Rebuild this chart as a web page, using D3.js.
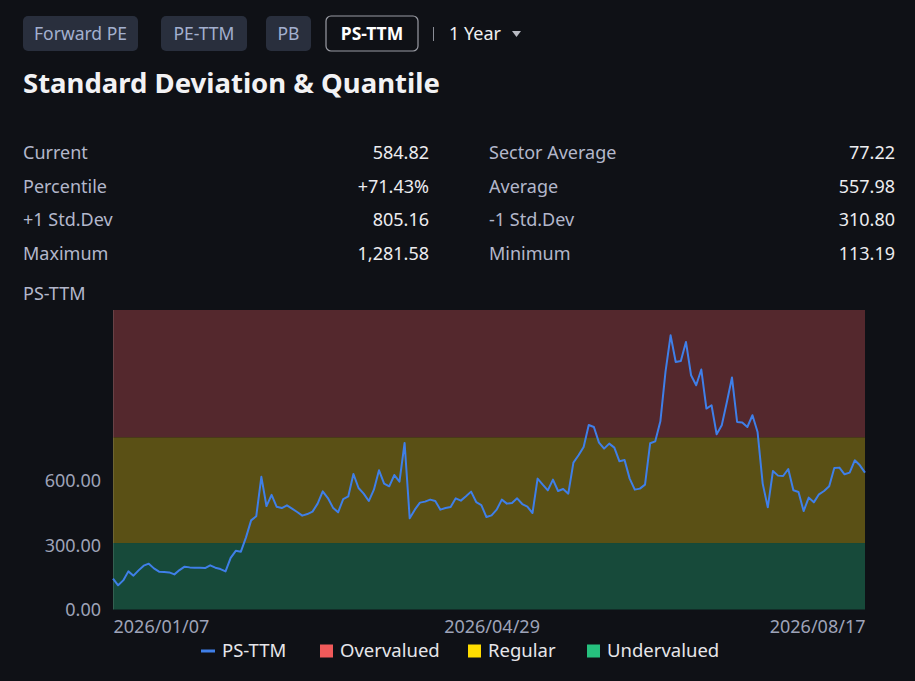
<!DOCTYPE html>
<html lang="en">
<head>
<meta charset="UTF-8">
<style>
    body { margin: 0; background: #0f1116; }
    svg { display: block; font-family: "Noto Sans", sans-serif; }
    .tab text { font-size: 17.5px; }
    .stat text { font-size: 18px; }
    .axis path { display: none; }
    .axis text { fill: #9ea3b8; font-size: 18px; font-family: "Noto Sans", sans-serif; }
    .legend text { fill: #e6e6ea; font-size: 18.5px; }
</style>
</head>
<body>
<script src="https://cdn.jsdelivr.net/npm/d3@7"></script>
<script>
// tabs on top
var tabs = ["Forward PE", "PE-TTM", "PB", "PS-TTM"];
var activeTab = "PS-TTM";
var period = "1 Year";

// stats block
var statLeftLabels = ["Current", "Percentile", "+1 Std.Dev", "Maximum"];
var statLeftValues = ["584.82", "+71.43%", "805.16", "1,281.58"];
var statRightLabels = ["Sector Average", "Average", "-1 Std.Dev", "Minimum"];
var statRightValues = ["77.22", "557.98", "310.80", "113.19"];

// bands: lower, upper bound of each zone
var bandNames = ["Undervalued", "Regular", "Overvalued"];
var bandLow = [0, 310.80, 805.16];
var bandHigh = [310.80, 805.16, 1400];
var bandColors = ["#174a3a", "#5a5015", "#54282d"];
var legendColors = ["#26c17e", "#ffdd00", "#f05a5a"];

// PS-TTM daily series
var psTtm = [144.1, 113.2, 136.1, 178.2, 158.1, 182.9, 204.9, 214.2, 192.2, 176.8,
    174.9, 173.5, 164.2, 184.3, 200.2, 196.9, 195.5, 195.5, 193.6, 206.3,
    195.5, 189.0, 178.2, 241.3, 274.1, 270.3, 337.2, 416.7, 435.5, 620.2,
    483.6, 536.0, 479.9, 474.3, 486.9, 471.5, 455.6, 438.7, 446.2, 457.4,
    494.9, 552.4, 521.0, 476.1, 454.2, 516.4, 529.0, 633.3, 567.8, 541.6,
    507.0, 560.3, 650.6, 588.4, 575.8, 628.6, 597.8, 778.3, 426.1, 466.8,
    499.5, 504.2, 513.6, 507.0, 466.8, 474.3, 479.0, 519.6, 508.9, 529.0,
    551.0, 502.3, 488.3, 432.2, 440.1, 466.8, 513.6, 494.9, 497.7, 519.6,
    493.0, 480.8, 450.9, 611.8, 583.7, 557.1, 607.1, 553.8, 563.1, 541.6,
    686.6, 720.8, 759.6, 862.5, 853.1, 780.2, 752.1, 775.5, 756.8, 692.7,
    698.8, 611.8, 560.3, 565.0, 583.7, 776.9, 786.2, 879.8, 1110.4, 1281.58,
    1157.2, 1161.8, 1250.7, 1094.9, 1048.2, 1121.6, 939.2, 954.6, 819.0, 861.1,
    970.1, 1084.2, 876.5, 874.0, 853.1, 907.9, 829.7, 588.4, 477.5, 647.3,
    625.8, 623.9, 656.7, 557.1, 549.1, 460.2, 522.9, 500.9, 538.4, 553.8,
    575.8, 661.4, 663.2, 631.9, 639.9, 697.4, 674.0, 639.9];

var xTickIndex = [0, 74, 147];
var xTickLabels = ["2026/01/07", "2026/04/29", "2026/08/17"];
var yTicks = [0, 300, 600];

var W = 915, H = 681;
var plot = { left: 113, right: 865, top: 310, bottom: 609.5 };

var svg = d3.select("body").append("svg")
    .attr("width", W)
    .attr("height", H);

svg.append("rect").attr("width", W).attr("height", H).attr("fill", "#0f1116");

// ---- tabs
var tabX = [23, 161, 266, 326];
var tabW = [115, 86, 45, 92];
var tab = svg.selectAll(".tab")
    .data(tabs)
    .enter().append("g")
    .attr("class", "tab")
    .attr("transform", function (d, i) { return "translate(" + tabX[i] + ",16)"; });

tab.append("rect")
    .attr("width", function (d, i) { return tabW[i]; })
    .attr("height", 35)
    .attr("rx", 5)
    .attr("fill", function (d) { return d === activeTab ? "#0f1116" : "#292f3d"; })
    .attr("stroke", function (d) { return d === activeTab ? "#9a9ca4" : "none"; })
    .attr("stroke-width", 1.2);

tab.append("text")
    .attr("x", function (d, i) { return tabW[i] / 2; })
    .attr("y", 17.5)
    .attr("dy", "0.35em")
    .attr("text-anchor", "middle")
    .attr("fill", function (d) { return d === activeTab ? "#ffffff" : "#a3b0cf"; })
    .attr("font-weight", function (d) { return d === activeTab ? "bold" : "normal"; })
    .text(function (d) { return d; });

svg.append("line")
    .attr("x1", 433.5).attr("x2", 433.5)
    .attr("y1", 27).attr("y2", 41)
    .attr("stroke", "#8a8d96");

svg.append("text")
    .attr("x", 449).attr("y", 33.5).attr("dy", "0.35em")
    .attr("fill", "#f0f0f2").attr("font-size", 18)
    .text(period);

svg.append("path")
    .attr("d", "M512,31 L521,31 L516.5,37 Z")
    .attr("fill", "#b8bac2");

// ---- title
svg.append("text")
    .attr("x", 23).attr("y", 93)
    .attr("fill", "#f2f2f4")
    .attr("font-size", 27.5)
    .attr("font-weight", "bold")
    .text("Standard Deviation & Quantile");

// ---- stats
var rowY = [153, 187, 220, 254];
function statColumn(labels, values, x0, x1) {
    var g = svg.append("g").attr("class", "stat");
    g.selectAll(".lab").data(labels).enter().append("text")
        .attr("x", x0).attr("y", function (d, i) { return rowY[i]; })
        .attr("dy", "0.35em")
        .attr("fill", "#b3b7cb")
        .text(function (d) { return d; });
    g.selectAll(".val").data(values).enter().append("text")
        .attr("x", x1).attr("y", function (d, i) { return rowY[i]; })
        .attr("dy", "0.35em")
        .attr("text-anchor", "end")
        .attr("fill", "#ececef")
        .text(function (d) { return d; });
}
statColumn(statLeftLabels, statLeftValues, 23, 429);
statColumn(statRightLabels, statRightValues, 489, 895);

svg.append("text")
    .attr("x", 23).attr("y", 294).attr("dy", "0.35em")
    .attr("fill", "#b3b7cb").attr("font-size", 18)
    .text("PS-TTM");

// ---- chart
var x = d3.scalePoint()
    .domain(d3.range(psTtm.length))
    .range([plot.left, plot.right]);

var y = d3.scaleLinear()
    .domain([0, 1400])
    .range([plot.bottom, plot.top]);

svg.append("g").selectAll("rect")
    .data(bandNames)
    .enter().append("rect")
    .attr("x", plot.left)
    .attr("width", plot.right - plot.left)
    .attr("y", function (d, i) { return y(bandHigh[i]); })
    .attr("height", function (d, i) { return y(bandLow[i]) - y(bandHigh[i]); })
    .attr("fill", function (d, i) { return bandColors[i]; });

svg.append("line")
    .attr("x1", plot.left + 0.5).attr("x2", plot.left + 0.5)
    .attr("y1", plot.top).attr("y2", plot.bottom)
    .attr("stroke", "#ffffff").attr("stroke-opacity", 0.12);

var yAxis = d3.axisLeft(y)
    .tickValues(yTicks)
    .tickFormat(d3.format(".2f"))
    .tickSize(0)
    .tickPadding(12);

svg.append("g")
    .attr("class", "axis")
    .attr("transform", "translate(" + plot.left + ",0)")
    .call(yAxis);

var xAxis = d3.axisBottom(x)
    .tickValues(xTickIndex)
    .tickFormat(function (d) { return xTickLabels[xTickIndex.indexOf(d)]; })
    .tickSize(0)
    .tickPadding(11);

var xg = svg.append("g")
    .attr("class", "axis")
    .attr("transform", "translate(0," + plot.bottom + ")")
    .call(xAxis);
xg.selectAll("text")
    .attr("font-size", 19.5)
    .style("text-anchor", function (d, i) { return i === 0 ? "start" : (i === xTickIndex.length - 1 ? "end" : "middle"); });

var line = d3.line()
    .x(function (d, i) { return x(i); })
    .y(function (d) { return y(d); });

svg.append("path")
    .attr("d", line(psTtm))
    .attr("fill", "none")
    .attr("stroke", "#3f7fe8")
    .attr("stroke-width", 2)
    .attr("stroke-linejoin", "round");

// ---- legend
var legendItems = ["PS-TTM", "Overvalued", "Regular", "Undervalued"];
var legendX = [201, 320, 468, 587];
var legendSwatch = ["#3f7fe8", legendColors[2], legendColors[1], legendColors[0]];
var lg = svg.append("g").attr("class", "legend")
    .selectAll("g").data(legendItems).enter().append("g")
    .attr("transform", function (d, i) { return "translate(" + legendX[i] + ",651)"; });

lg.append("rect")
    .attr("x", 0)
    .attr("y", function (d, i) { return i === 0 ? -1.5 : -6.5; })
    .attr("width", function (d, i) { return i === 0 ? 14 : 13; })
    .attr("height", function (d, i) { return i === 0 ? 3 : 13; })
    .attr("fill", function (d, i) { return legendSwatch[i]; });

lg.append("text")
    .attr("x", function (d, i) { return i === 0 ? 21 : 20; })
    .attr("dy", "0.35em")
    .text(function (d) { return d; });
</script>
</body>
</html>
